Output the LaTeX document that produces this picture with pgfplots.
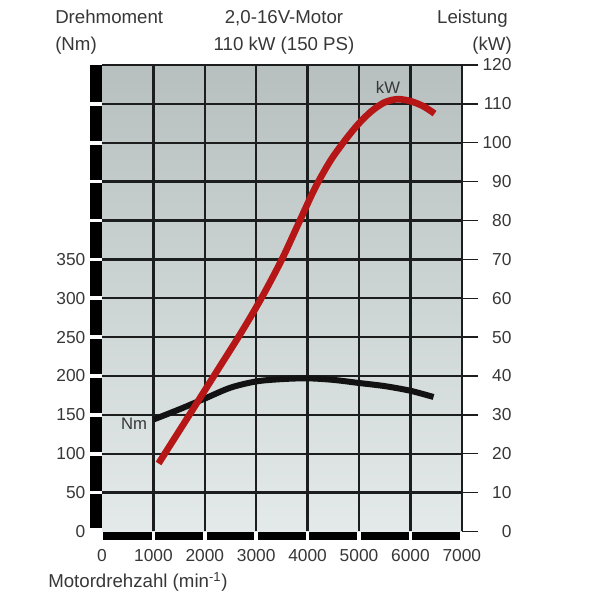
\documentclass[border=0pt]{standalone}
\usepackage{fontspec}
\setmainfont{Liberation Sans}
\usepackage{pgfplots}
\pgfplotsset{compat=1.18}
\definecolor{redline}{RGB}{182,22,22}
\definecolor{txt}{RGB}{55,55,55}
\definecolor{gridc}{RGB}{28,30,30}
\definecolor{curvek}{RGB}{18,18,18}
\definecolor{bgtop}{RGB}{183,191,191}
\definecolor{bgbot}{RGB}{227,234,233}
\begin{document}
\begin{tikzpicture}
\path[use as bounding box] (0,0) rectangle (453.75pt,462pt);
\pgfplotsset{base/.style={at={(76.5pt,63.375pt)}, anchor=south west, scale only axis,
  width=269.85pt, height=349.875pt, xmin=0, xmax=7000, clip=false,
  axis line style={draw=none}, major tick length=0pt,
  tick label style={font=\fontsize{13}{15}\selectfont, text=txt}}}
% ---------------- torque axis (left) ----------------
\begin{axis}[base, ymin=0, ymax=600,
  axis background/.style={top color=bgtop, bottom color=bgbot},
  xtick={1000,2000,...,7000}, xticklabels={1000,2000,3000,4000,5000,6000,7000},
  extra x ticks={0}, extra x tick labels={0}, extra x tick style={grid=none},
  ytick={50,100,...,600}, yticklabels={50,100,150,200,250,300,350,{},{},{},{},{}},
  extra y ticks={0}, extra y tick labels={0}, extra y tick style={grid=none},
  grid=major, grid style={gridc, line width=1.8pt},
  xtick pos=bottom, ytick pos=left,
  xticklabel style={yshift=-10pt},
  yticklabel style={xshift=-9pt}]
% left black bar, broken at each tick
\fill[black] (axis cs:-233,4) rectangle (axis cs:0,47.7);
\fill[black] (axis cs:-233,52.3) rectangle (axis cs:0,97.7);
\fill[black] (axis cs:-233,102.3) rectangle (axis cs:0,147.7);
\fill[black] (axis cs:-233,152.3) rectangle (axis cs:0,197.7);
\fill[black] (axis cs:-233,202.3) rectangle (axis cs:0,247.7);
\fill[black] (axis cs:-233,252.3) rectangle (axis cs:0,297.7);
\fill[black] (axis cs:-233,302.3) rectangle (axis cs:0,347.7);
\fill[black] (axis cs:-233,352.3) rectangle (axis cs:0,397.7);
\fill[black] (axis cs:-233,402.3) rectangle (axis cs:0,447.7);
\fill[black] (axis cs:-233,452.3) rectangle (axis cs:0,497.7);
\fill[black] (axis cs:-233,502.3) rectangle (axis cs:0,547.7);
\fill[black] (axis cs:-233,552.3) rectangle (axis cs:0,600);
% bottom black bar, broken at each grid line
\fill[black] (axis cs:12,-0.6) rectangle (axis cs:965,-11);
\fill[black] (axis cs:1035,-0.6) rectangle (axis cs:1965,-11);
\fill[black] (axis cs:2035,-0.6) rectangle (axis cs:2965,-11);
\fill[black] (axis cs:3035,-0.6) rectangle (axis cs:3965,-11);
\fill[black] (axis cs:4035,-0.6) rectangle (axis cs:4965,-11);
\fill[black] (axis cs:5035,-0.6) rectangle (axis cs:5965,-11);
\fill[black] (axis cs:6035,-0.6) rectangle (axis cs:6965,-11);
% torque curve
\addplot[curvek, line width=4.5pt, smooth] coordinates {
 (1000,144) (1500,157) (2000,171) (2500,185) (3000,193) (3500,196)
 (4000,197) (4500,195) (5000,191) (5500,187) (6000,181) (6450,173)};
\node[text=txt, font=\fontsize{12.5}{14}\selectfont] at (axis cs:623,138) {Nm};
\end{axis}
% ---------------- power axis (right) ----------------
\begin{axis}[base, ymin=0, ymax=120,
  xtick=\empty,
  ytick={0,10,...,120}, yticklabels={0,10,20,30,40,50,60,70,80,90,100,110,120},
  ytick pos=right, yticklabel pos=right, tick align=outside, major tick length=12pt,
  ytick style={gridc, line width=1.1pt},
  yticklabel style={anchor=west, text width=21.7pt, align=right}]
\addplot[redline, line width=5pt, smooth] coordinates {
 (1100,17.5) (1700,30) (2200,40.5) (2700,51) (3100,60) (3500,70)
 (3850,80) (4150,88.5) (4450,95.5) (4750,101) (5000,105) (5250,108.2)
 (5500,110.4) (5750,111.2) (6000,110.7) (6250,109.4) (6470,107.5)};
\node[text=txt, font=\fontsize{12.5}{14}\selectfont] at (axis cs:5564,114.1) {kW};
\end{axis}
% ---------------- header and axis titles ----------------
\begin{scope}[every node/.style={text=txt, font=\fontsize{14}{16}\selectfont, inner sep=0pt}]
\node[anchor=base west] at (41.25pt,444pt) {Drehmoment};
\node[anchor=base west] at (41.25pt,423.75pt) {(Nm)};
\node[anchor=base] at (213pt,444pt) {2,0-16V-Motor};
\node[anchor=base] at (213pt,423.75pt) {110 kW (150 PS)};
\node[anchor=base east] at (381pt,444pt) {Leistung};
\node[anchor=base east] at (384pt,423.75pt) {(kW)};
\node[anchor=base west] at (36pt,21pt) {Motordrehzahl (min\textsuperscript{-1})};
\end{scope}
\end{tikzpicture}
\end{document}
